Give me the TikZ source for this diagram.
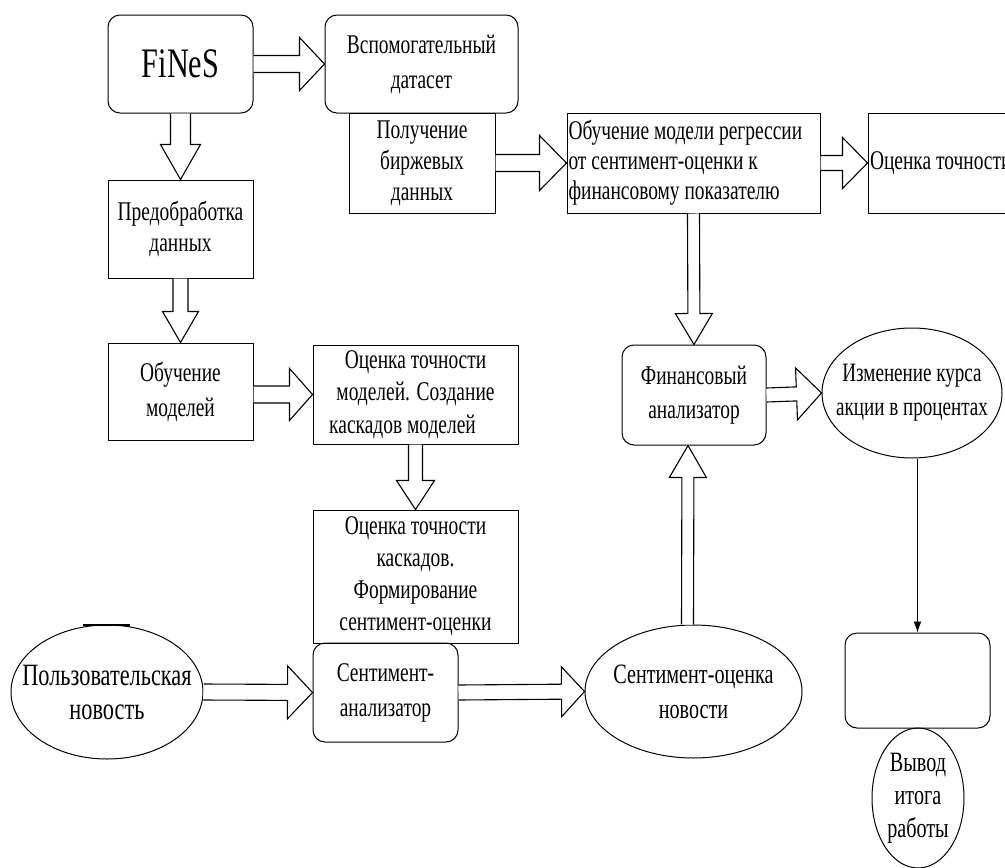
\documentclass[tikz,border=0pt]{standalone}
\usepackage{fontspec}
\setmainfont{Liberation Serif}[FakeStretch=0.72]
\usetikzlibrary{calc,shapes.geometric,arrows.meta}
\newcommand{\myfs}{\fontsize{27}{33}\selectfont}
% block arrow: start, end, shaft half-width, head half-width, head length
\newcommand{\blockarr}[5]{%
  \path (#1) coordinate (ba) (#2) coordinate (bb);
  \coordinate (bc) at ($(bb)!#5!(ba)$);
  \draw[blockarrow] ($(ba)!#3!90:(bb)$) -- ($(bc)!#3!-90:(ba)$) -- ($(bc)!#4!-90:(ba)$)
    -- (bb) -- ($(bc)!#4!90:(ba)$) -- ($(bc)!#3!90:(ba)$) -- ($(ba)!#3!-90:(bb)$);
}
\begin{document}
\begin{tikzpicture}[x=1pt,y=-1pt,
  every node/.style={font=\myfs, inner sep=0pt, align=center},
  rbox/.style={draw, rounded corners=12pt, line width=1pt},
  sbox/.style={draw, line width=1pt},
  ell/.style={draw, ellipse, line width=1pt, inner sep=-45pt},
  blockarrow/.style={draw, line width=1.1pt, line join=miter, fill=white}]

\useasboundingbox (0,0) rectangle (1005,868);
\fill[white] (0,0) rectangle (1005,868);

% top row
\node[sbox, minimum width=146pt, minimum height=100pt, font=\fontsize{27}{31}\selectfont] (poluch) at (422,163) {Получение\\биржевых\\данных};
\node[rbox, minimum width=145pt, minimum height=98pt, font=\fontsize{42}{46}\selectfont] (fines) at (180.5,64) {FiNeS};
\node[rbox, minimum width=193pt, minimum height=98pt, font=\fontsize{27}{35}\selectfont] (vsp) at (421.5,64) {Вспомогательный\\датасет};
\node[sbox, minimum width=253pt, minimum height=100pt, font=\fontsize{27}{30}\selectfont] (regr) at (693.5,163)
  {\makebox[250pt][l]{\begin{tabular}{@{}l@{}}Обучение модели регрессии\\от сентимент-оценки к\\финансовому показателю\end{tabular}}};
\node[sbox, minimum width=147pt, minimum height=100pt, font=\fontsize{27}{33}\selectfont] (ocT) at (941.5,163) {\makebox[143pt][l]{Оценка точности}};

% left column
\node[sbox, minimum width=145pt, minimum height=98pt, font=\fontsize{27}{31}\selectfont] (predobr) at (180.5,229) {Предобработка\\данных};
\node[sbox, minimum width=145pt, minimum height=97pt, font=\fontsize{27}{35}\selectfont] (obuch) at (180.5,391.5) {Обучение\\моделей};
\node[sbox, minimum width=205pt, minimum height=99pt, font=\fontsize{27}{32.5}\selectfont] (ocM) at (415.5,394.5) {Оценка точности\\моделей. Создание\\каскадов моделей\hspace*{26pt}};
\node[sbox, minimum width=205pt, minimum height=133pt, font=\fontsize{27}{32}\selectfont] (ocK) at (415.5,576.5) {Оценка точности\\каскадов.\\Формирование\\сентимент-оценки};
\node[rbox, minimum width=145pt, minimum height=99pt, font=\fontsize{27}{35}\selectfont] (sentA) at (385.5,692.5) {Сентимент-\\анализатор};
\node[ell, minimum width=217pt, minimum height=133pt, font=\fontsize{28}{35}\selectfont] (sentO) at (693.5,691.5) {Сентимент-оценка\\новости};
\node[ell, minimum width=192pt, minimum height=134pt, font=\fontsize{31}{34}\selectfont] (polz) at (107,692) {Пользовательская\\новость};

% right part
\node[rbox, minimum width=144pt, minimum height=100pt, font=\fontsize{27}{34}\selectfont] (finA) at (694,395) {Финансовый\\анализатор};
\node[ell, minimum width=180pt, minimum height=130pt, font=\fontsize{26.5}{34}\selectfont] (izm) at (912,393) {Изменение курса\\акции в процентах};
\node[rbox, minimum width=145pt, minimum height=95pt] (res) at (917.5,680.5) {};
\node[ell, minimum width=92pt, minimum height=140pt, font=\fontsize{28}{33}\selectfont] (vyvod) at (918,798) {Вывод\\итога\\работы};

% block arrows
\blockarr{fines.south}{predobr.north}{10pt}{20pt}{35pt}
\blockarr{fines.east}{vsp.west}{8.5pt}{26.5pt}{25pt}
\blockarr{predobr.south}{obuch.north}{7.5pt}{18pt}{31pt}
\blockarr{obuch.east |- ocM.west}{ocM.west}{8.5pt}{26pt}{23pt}
\blockarr{ocM.south}{ocK.north}{7pt}{19pt}{29pt}
\blockarr{polz.east}{sentA.west}{8pt}{26.5pt}{25pt}
\blockarr{sentA.east}{sentO.west}{7.5pt}{25pt}{23pt}
\blockarr{$(sentO.north)+(-6,0)$}{$(finA.south)+(-6,0)$}{6pt}{18.5pt}{32pt}
\blockarr{regr.south}{finA.north}{6pt}{18.5pt}{31pt}
\blockarr{finA.east}{izm.west}{7pt}{26pt}{25pt}
\blockarr{poluch.east}{regr.west}{8.5pt}{27.5pt}{27pt}
\blockarr{regr.east}{ocT.west}{7.5pt}{25.5pt}{25pt}

% plain arrow
\draw[line width=1pt, -{Latex[length=11pt,width=8pt]}] (izm.south -| res.north) -- (res.north);

% small mark on top of the ellipse
\draw[line width=2pt] ($(polz.north)+(-24,0)$) -- ($(polz.north)+(23,0)$);
\end{tikzpicture}
\end{document}
